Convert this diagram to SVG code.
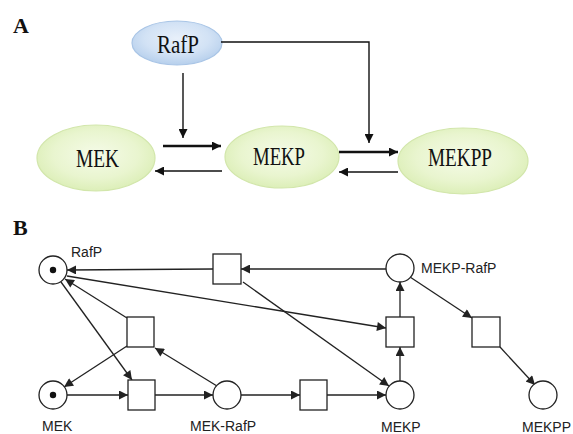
<svg xmlns="http://www.w3.org/2000/svg" width="573" height="434" viewBox="0 0 573 434">
<style>
.lbl{font-family:"Liberation Serif","Times New Roman",serif;font-weight:bold;font-size:22px;fill:#111}
.etxt{font-family:"Liberation Serif","Times New Roman",serif;font-size:25px;fill:#111;text-anchor:start}
.g{fill:url(#gGreen);stroke:#d2e6ab;stroke-width:1.2}
.b{fill:url(#gBlue);stroke:#a9c5e6;stroke-width:1.2}
.ca{fill:none;stroke:#111;stroke-width:1.4}
.ct{fill:none;stroke:#111;stroke-width:2.6}
.pn{fill:none;stroke:#222;stroke-width:1.3}
.pl{fill:#fff;stroke:#222;stroke-width:1.3}
.tr{fill:#fff;stroke:#222;stroke-width:1.3}
.ptxt{font-family:"Liberation Sans",Arial,sans-serif;font-size:14px;fill:#222}
</style>
<defs>
<radialGradient id="gGreen" cx="50%" cy="45%" r="60%">
<stop offset="0" stop-color="#f5fbe8"/>
<stop offset="0.6" stop-color="#e9f5cf"/>
<stop offset="1" stop-color="#d9edb2"/>
</radialGradient>
<radialGradient id="gBlue" cx="50%" cy="40%" r="60%">
<stop offset="0" stop-color="#e8f0fa"/>
<stop offset="0.6" stop-color="#d2e2f5"/>
<stop offset="1" stop-color="#b6cfec"/>
</radialGradient>
<marker id="aA" viewBox="0 0 10 10" refX="10" refY="5" markerUnits="userSpaceOnUse" markerWidth="11" markerHeight="9" orient="auto">
<path d="M0,0 L10,5 L0,10 z" fill="#111"/>
</marker>
<marker id="aP" viewBox="0 0 10 10" refX="10" refY="5" markerUnits="userSpaceOnUse" markerWidth="11" markerHeight="9" orient="auto">
<path d="M0,0 L10,5 L0,10 z" fill="#222"/>
</marker>
</defs>
<rect width="573" height="434" fill="#fff"/>

<text class="lbl" x="13" y="33">A</text>
<text class="lbl" x="13" y="235">B</text>

<!-- Part A nodes -->
<g id="A_RafP">
<ellipse class="b" cx="177" cy="43" rx="45" ry="22"/>
<text class="etxt" x="157" y="53" font-size="21" textLength="42" lengthAdjust="spacingAndGlyphs">RafP</text>
</g>
<g id="A_MEK">
<ellipse class="g" cx="96" cy="158" rx="59" ry="33"/>
<text class="etxt" x="76" y="167" textLength="43" lengthAdjust="spacingAndGlyphs">MEK</text>
</g>
<g id="A_MEKP">
<ellipse class="g" cx="282" cy="157" rx="57" ry="31"/>
<text class="etxt" x="253" y="165" textLength="52" lengthAdjust="spacingAndGlyphs">MEKP</text>
</g>
<g id="A_MEKPP">
<ellipse class="g" cx="463" cy="161" rx="65" ry="33"/>
<text class="etxt" x="428" y="166" textLength="64" lengthAdjust="spacingAndGlyphs">MEKPP</text>
</g>

<g id="A_connectors">
<line class="ca" x1="183" y1="73" x2="183" y2="138" marker-end="url(#aA)"/>
<line class="ct" x1="163" y1="146" x2="221" y2="146" marker-end="url(#aA)"/>
<line class="ca" x1="222" y1="171" x2="155" y2="171" marker-end="url(#aA)"/>
<line class="ct" x1="339" y1="152" x2="398" y2="152" marker-end="url(#aA)"/>
<line class="ca" x1="398" y1="172" x2="339" y2="172" marker-end="url(#aA)"/>
<path class="ca" d="M221,42 H369 V143" marker-end="url(#aA)"/>
</g>

<!-- Part B -->
<g id="B_connectors">
<line class="pn" x1="386" y1="269" x2="241" y2="269" marker-end="url(#aP)"/>
<line class="pn" x1="213" y1="269" x2="67" y2="270" marker-end="url(#aP)"/>
<line class="pn" x1="243" y1="282" x2="389" y2="386" marker-end="url(#aP)"/>
<line class="pn" x1="67" y1="276" x2="386" y2="328" marker-end="url(#aP)"/>
<line class="pn" x1="127" y1="318" x2="65" y2="279" marker-end="url(#aP)"/>
<line class="pn" x1="61" y1="282" x2="132" y2="380" marker-end="url(#aP)"/>
<line class="pn" x1="127" y1="346" x2="64" y2="387" marker-end="url(#aP)"/>
<line class="pn" x1="67" y1="395" x2="128" y2="395" marker-end="url(#aP)"/>
<line class="pn" x1="155" y1="395" x2="213" y2="395" marker-end="url(#aP)"/>
<line class="pn" x1="217" y1="386" x2="155" y2="348" marker-end="url(#aP)"/>
<line class="pn" x1="241" y1="395" x2="300" y2="395" marker-end="url(#aP)"/>
<line class="pn" x1="327" y1="395" x2="386" y2="395" marker-end="url(#aP)"/>
<line class="pn" x1="400" y1="381" x2="400" y2="347" marker-end="url(#aP)"/>
<line class="pn" x1="400" y1="317" x2="400" y2="282" marker-end="url(#aP)"/>
<line class="pn" x1="410" y1="277" x2="472" y2="318" marker-end="url(#aP)"/>
<line class="pn" x1="500" y1="347" x2="535" y2="385" marker-end="url(#aP)"/>
</g>

<g id="P_RafP">
<circle class="pl" cx="53" cy="270" r="14"/>
<circle cx="53" cy="270" r="3.2" fill="#111"/>
<text class="ptxt" x="71" y="257">RafP</text>
</g>
<g id="P_MEK">
<circle class="pl" cx="53" cy="395" r="14"/>
<circle cx="53" cy="395" r="3.2" fill="#111"/>
<text class="ptxt" x="42" y="431">MEK</text>
</g>
<g id="P_MEKRafP">
<circle class="pl" cx="227" cy="395" r="14"/>
<text class="ptxt" x="190" y="431">MEK-RafP</text>
</g>
<g id="P_MEKP">
<circle class="pl" cx="400" cy="395" r="14"/>
<text class="ptxt" x="381" y="432">MEKP</text>
</g>
<g id="P_MEKPRafP">
<circle class="pl" cx="400" cy="268" r="14"/>
<text class="ptxt" x="421" y="273">MEKP-RafP</text>
</g>
<g id="P_MEKPP">
<circle class="pl" cx="543" cy="395" r="14"/>
<text class="ptxt" x="522" y="432">MEKPP</text>
</g>

<g id="T1"><rect class="tr" x="213" y="254" width="28" height="30"/></g>
<g id="T2"><rect class="tr" x="127" y="317" width="27" height="30"/></g>
<g id="T3"><rect class="tr" x="128" y="380" width="27" height="30"/></g>
<g id="T4"><rect class="tr" x="386" y="317" width="28" height="30"/></g>
<g id="T5"><rect class="tr" x="472" y="317" width="28" height="30"/></g>
<g id="T6"><rect class="tr" x="300" y="380" width="27" height="30"/></g>
</svg>
